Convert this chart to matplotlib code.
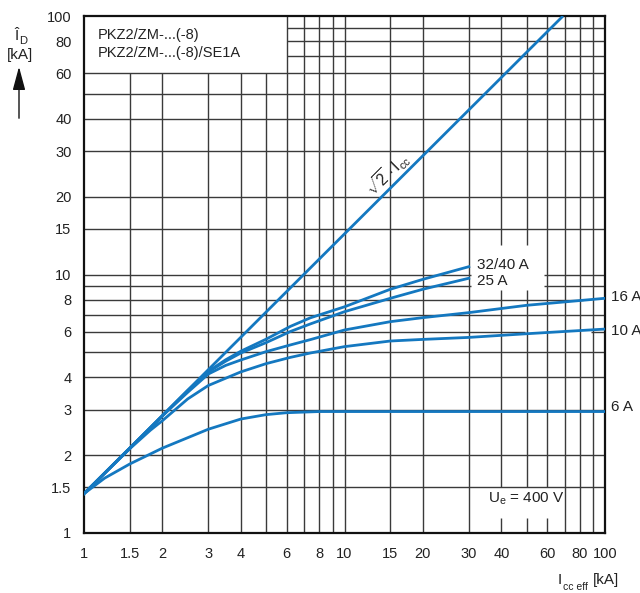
import matplotlib
matplotlib.use('Agg')
import matplotlib.pyplot as plt
from matplotlib import font_manager

fams = {f.name for f in font_manager.fontManager.ttflist}
base = 'Liberation Sans Narrow' if 'Liberation Sans Narrow' in fams else 'Liberation Sans'
plt.rcParams['font.family'] = [base, 'DejaVu Sans']
plt.rcParams['mathtext.fontset'] = 'custom'
plt.rcParams['mathtext.rm'] = base
plt.rcParams['mathtext.it'] = base + ':italic'
plt.rcParams['mathtext.sf'] = base

# ---------------- data ----------------
line_x = [1, 69]
line_y = [1.42, 100]

x_32 = [1, 2, 2.5, 3, 3.5, 4, 5, 6.2, 7.4, 10, 15, 20, 30]
y_32 = [1.42, 2.84, 3.55, 4.22, 4.68, 5.05, 5.62, 6.3, 6.8, 7.5, 8.77, 9.58, 10.72]

x_25 = [1, 2, 2.5, 3, 3.5, 4, 5, 6.2, 7.4, 10, 15, 20, 30]
y_25 = [1.42, 2.84, 3.55, 4.2, 4.62, 4.97, 5.45, 6.02, 6.44, 7.18, 8.09, 8.77, 9.67]

x_16 = [1, 2, 2.5, 3, 3.5, 4, 5, 6.2, 7.4, 10, 15, 20, 30, 50, 100]
y_16 = [1.42, 2.84, 3.5, 4.12, 4.45, 4.67, 5.03, 5.34, 5.6, 6.1, 6.57, 6.81, 7.12, 7.6, 8.09]

x_10 = [1, 1.5, 1.8, 2, 2.5, 3, 4, 5, 6.2, 7.4, 10, 15, 20, 30, 50, 100]
y_10 = [1.42, 2.12, 2.5, 2.72, 3.3, 3.72, 4.2, 4.52, 4.78, 4.97, 5.26, 5.53, 5.61, 5.71, 5.9, 6.15]

x_6 = [1, 1.2, 1.5, 2, 3, 4, 5, 6, 8, 10, 100]
y_6 = [1.42, 1.63, 1.85, 2.13, 2.52, 2.76, 2.87, 2.92, 2.95, 2.95, 2.95]

tick_vals = [1, 1.5, 2, 3, 4, 6, 8, 10, 15, 20, 30, 40, 60, 80, 100]
tick_labels = ['1', '1.5', '2', '3', '4', '6', '8', '10', '15', '20', '30', '40', '60', '80', '100']
grid_vals = [1.5, 2, 3, 4, 5, 6, 7, 8, 9, 10, 15, 20, 30, 40, 50, 60, 70, 80, 90]

series_labels = ['32/40 A', '25 A', '16 A', '10 A', '6 A']
legend_lines = ['PKZ2/ZM-...(-8)', 'PKZ2/ZM-...(-8)/SE1A']

# ---------------- figure ----------------
W, H = 640, 593
FS = 10
tc = '#222222'
fig = plt.figure(figsize=(W / 100, H / 100), dpi=100)
ax = fig.add_axes([84 / W, 1 - 533 / H, (605 - 84) / W, (533 - 16) / H])
ax.set_xscale('log')
ax.set_yscale('log')
ax.set_xlim(1, 100)
ax.set_ylim(1, 100)

ax.set_xticks(tick_vals)
ax.set_xticklabels(tick_labels)
ax.set_yticks(tick_vals)
ax.set_yticklabels(tick_labels)
ax.minorticks_off()
ax.tick_params(axis='both', length=0, labelsize=FS + 0.5, colors=tc)
ax.tick_params(axis='x', pad=10)
ax.tick_params(axis='y', pad=9)
for s in ax.spines.values():
    s.set_linewidth(1.6)
    s.set_color('#111111')

gc = '#3a3a3a'
glw = 1.0

def hsegs(y):
    if y > 60:
        return [(6, 100)]
    if y in (9, 10):
        return [(1, 30.6), (58.5, 100)]
    if y == 6:
        return [(1, 49.5), (88, 100)]
    if y == 8:
        return [(1, 82.4)]
    return [(1, 100)]

def vsegs(x):
    if x < 6:
        return [(1, 60)]
    if x in (40, 50):
        return [(1, 1.146), (1.5, 8.7), (13, 100)]
    if x == 60:
        return [(1, 1.146), (1.5, 100)]
    return [(1, 100)]

for g in grid_vals:
    for a, b in hsegs(g):
        ax.plot([a, b], [g, g], color=gc, lw=glw, zorder=1, solid_capstyle='butt')
    for a, b in vsegs(g):
        ax.plot([g, g], [a, b], color=gc, lw=glw, zorder=1, solid_capstyle='butt')

blue = '#1478c0'
lw = 2.0
ax.plot(line_x, line_y, color=blue, lw=lw, zorder=3, solid_capstyle='butt')
for xs, ys in [(x_32, y_32), (x_25, y_25), (x_16, y_16), (x_10, y_10), (x_6, y_6)]:
    ax.plot(xs, ys, color=blue, lw=lw, zorder=3, solid_joinstyle='round')

# labels of curves
ax.text(32.3, 10.9, series_labels[0], fontsize=FS + 1, ha='left', va='center', color=tc, zorder=4)
ax.text(32.3, 9.45, series_labels[1], fontsize=FS + 1, ha='left', va='center', color=tc, zorder=4)
fig.text(611 / W, 1 - 297 / H, series_labels[2], fontsize=FS + 1, ha='left', va='center', color=tc)
fig.text(611 / W, 1 - 331 / H, series_labels[3], fontsize=FS + 1, ha='left', va='center', color=tc)
fig.text(611 / W, 1 - 407 / H, series_labels[4], fontsize=FS + 1, ha='left', va='center', color=tc)

# legend text in top-left box
fig.text(98 / W, 1 - 35 / H, legend_lines[0], fontsize=FS + 0.5, ha='left', va='center', color=tc)
fig.text(98 / W, 1 - 53 / H, legend_lines[1], fontsize=FS + 0.5, ha='left', va='center', color=tc)

# sqrt2 label
ax.text(14.6, 24.5, r'$\sqrt{2}\cdot\mathrm{I}_{\mathrm{cc}}$', fontsize=FS + 1.5, rotation=45,
        ha='center', va='center', color=tc, zorder=4, rotation_mode='anchor')

# Ue
ax.text(49.8, 1.36, r'$\mathrm{U}_{\mathrm{e}}$ = 400 V', fontsize=FS + 1, ha='center', va='center',
        color=tc, zorder=4)

# y axis label + arrow
fig.text(16 / W, 1 - 36 / H, 'Î', fontsize=FS + 1, ha='center', va='center', color=tc)
fig.text(23 / W, 1 - 41 / H, 'D', fontsize=FS - 2, ha='center', va='center', color=tc)
fig.text(20 / W, 1 - 55 / H, '[kA]', fontsize=FS + 1, ha='center', va='center', color=tc)
fig.add_artist(matplotlib.patches.FancyArrowPatch((19 / W, 1 - 121 / H), (19 / W, 1 - 64 / H),
               transform=fig.transFigure, arrowstyle='-|>,head_length=1.3,head_width=0.35',
               mutation_scale=11, color='#111111', lw=1.0))

# x axis label
fig.text(558 / W, 1 - 580 / H, 'I', fontsize=FS + 1, ha='left', va='center', color=tc)
fig.text(563 / W, 1 - 587 / H, 'cc eff', fontsize=FS - 2.5, ha='left', va='center', color=tc)
fig.text(593 / W, 1 - 580 / H, '[kA]', fontsize=FS + 1, ha='left', va='center', color=tc)

fig.savefig('out.png', dpi=100)
